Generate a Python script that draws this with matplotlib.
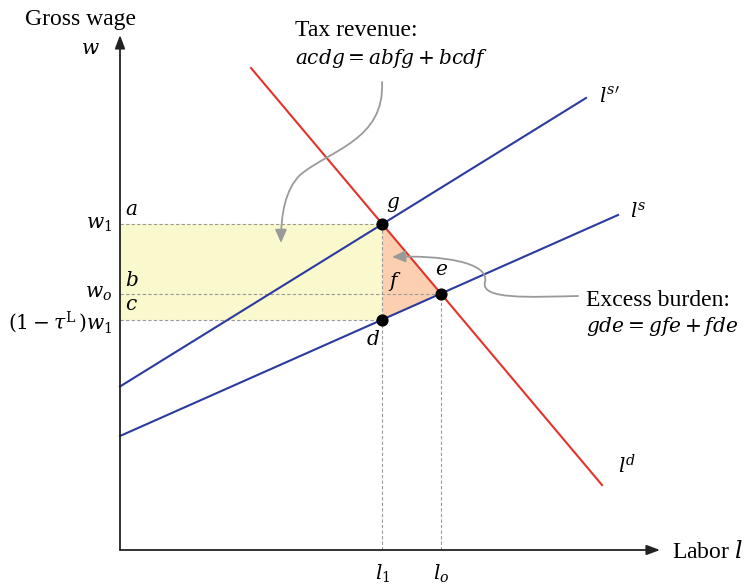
import numpy as np
import matplotlib.pyplot as plt
from matplotlib.patches import FancyArrowPatch, Polygon
from matplotlib.path import Path

plt.rcParams["mathtext.fontset"] = "dejavuserif"
plt.rcParams["font.family"] = "Liberation Serif"

# line end points (labor l, wage w); 1 unit = 10 px
supply_l = [0.0, 49.8]
supply_w = [11.4, 33.5]
supply_tax_l = [0.0, 46.6]
supply_tax_w = [16.35, 45.2]
demand_l = [13.1, 48.2]
demand_w = [48.2, 6.5]

x_max, y_max = 54.0, 51.5

blue = "#2B3A9F"
red = "#E5332A"
grey = "#9A9A9A"


def line(xs, ys):
    k = (ys[1] - ys[0]) / (xs[1] - xs[0])
    return k, ys[0] - k * xs[0]


def cross(a, b):
    x = (b[1] - a[1]) / (a[0] - b[0])
    return x, a[0] * x + a[1]


s = line(supply_l, supply_w)
st = line(supply_tax_l, supply_tax_w)
dm = line(demand_l, demand_w)

l1, w1 = cross(st, dm)   # g
lo, wo = cross(s, dm)    # e
wd = s[0] * l1 + s[1]    # d

fig = plt.figure(figsize=(7.45, 5.84), dpi=100)
ax = fig.add_axes([0, 0, 1, 1])
ax.set_xlim(-12, 62.5)
ax.set_ylim(-3.4, 55)
ax.axis("off")

# shaded areas
ax.fill_between([0, l1], wd, w1, color="#FAF8CD", lw=0, zorder=1)
ax.add_patch(Polygon([(l1, w1), (l1, wd), (lo, wo)], closed=True,
                     color="#FBCFB0", lw=0, zorder=1))

# guides
dash = dict(color=grey, lw=0.8, ls=(0, (3, 2)), zorder=2)
ax.plot([0, l1], [w1, w1], **dash)
ax.plot([0, lo], [wo, wo], **dash)
ax.plot([0, l1], [wd, wd], **dash)
ax.plot([l1, l1], [0, w1], **dash)
ax.plot([lo, lo], [0, wo], **dash)

# curves
ax.plot(supply_l, supply_w, color=blue, lw=1.5, zorder=3)
ax.plot(supply_tax_l, supply_tax_w, color=blue, lw=1.5, zorder=3)
ax.plot(demand_l, demand_w, color=red, lw=1.5, zorder=3)

ax.scatter([l1, l1, lo], [w1, wd, wo], s=60, color="black", zorder=4)

# axes
arrow = dict(arrowstyle="-|>,head_length=0.8,head_width=0.3", color="#222222",
             lw=1.3, shrinkA=0, shrinkB=0)
ax.annotate("", xy=(0, y_max), xytext=(0, 0), arrowprops=arrow)
ax.annotate("", xy=(x_max, 0), xytext=(0, 0), arrowprops=arrow)

fs = 14.5
tf = 17
ax.text(-3.9, 53.0, "Gross wage", fontsize=tf, ha="center", va="center")
ax.text(-3.0, 50.1, "$w$", fontsize=fs, ha="center", va="center")
ax.text(-0.8, w1, "$w_1$", fontsize=fs, ha="right", va="center")
ax.text(-0.8, wo, "$w_o$", fontsize=fs, ha="right", va="center")
ax.text(-0.8, wd - 0.3, r"$(1-\tau^{\mathrm{L}}\,)w_1$", fontsize=fs,
        ha="right", va="center")
ax.text(0.5, w1 + 1.4, "$a$", fontsize=fs, ha="left", va="center")
ax.text(0.5, wo + 1.2, "$b$", fontsize=fs, ha="left", va="center")
ax.text(0.5, wd + 1.4, "$c$", fontsize=fs, ha="left", va="center")
ax.text(l1 + 1.1, w1 + 2.0, "$g$", fontsize=fs, ha="center", va="center")
ax.text(l1 + 1.2, wo + 1.2, "$f$", fontsize=fs, ha="center", va="center")
ax.text(lo + 0.1, wo + 2.3, "$e$", fontsize=fs, ha="center", va="center")
ax.text(l1 - 0.9, wd - 2.1, "$d$", fontsize=fs, ha="center", va="center")
ax.text(l1, -2.4, "$l_1$", fontsize=fs, ha="center", va="center")
ax.text(lo, -2.4, "$l_o$", fontsize=fs, ha="center", va="center")
ax.text(supply_tax_l[1] + 1.3, supply_tax_w[1] + 0.0, r"$l^{s\prime}$",
        fontsize=fs, ha="left", va="center")
ax.text(supply_l[1] + 1.2, supply_w[1] + 0.2, "$l^{s}$", fontsize=fs,
        ha="left", va="center")
ax.text(demand_l[1] + 1.6, demand_w[1] + 1.8, "$l^{d}$", fontsize=fs,
        ha="left", va="center")
ax.text(x_max + 1.2, -0.2, "Labor $l$", fontsize=tf, ha="left", va="center")

ax.text(17.5, 52.0, "Tax revenue:", fontsize=tf, ha="left", va="center")
ax.text(17.5, 49.2, "$acdg = abfg + bcdf$", fontsize=fs, ha="left",
        va="center")
ax.text(46.6, 24.9, "Excess burden:", fontsize=tf, ha="left", va="center")
ax.text(46.6, 22.3, "$gde = gfe + fde$", fontsize=fs, ha="left",
        va="center")


def px(x, y):
    return ((x - 120) / 10, (550 - y) / 10)


curve_codes = [Path.MOVETO] + [Path.CURVE4] * 6
tax_path = Path([px(382, 82), px(385, 140), px(330, 150), px(300, 175),
                 px(285, 190), px(281, 215), px(281, 243)], curve_codes)
burden_path = Path([px(578, 296), px(530, 297), px(480, 300), px(485, 282),
                    px(490, 262), px(440, 255), px(392, 257)], curve_codes)
for p in (tax_path, burden_path):
    ax.add_patch(FancyArrowPatch(path=p, arrowstyle="-|>,head_length=8,head_width=3.5",
                                 color=grey, lw=1.3, zorder=5))

fig.savefig("out.png", dpi=100)
